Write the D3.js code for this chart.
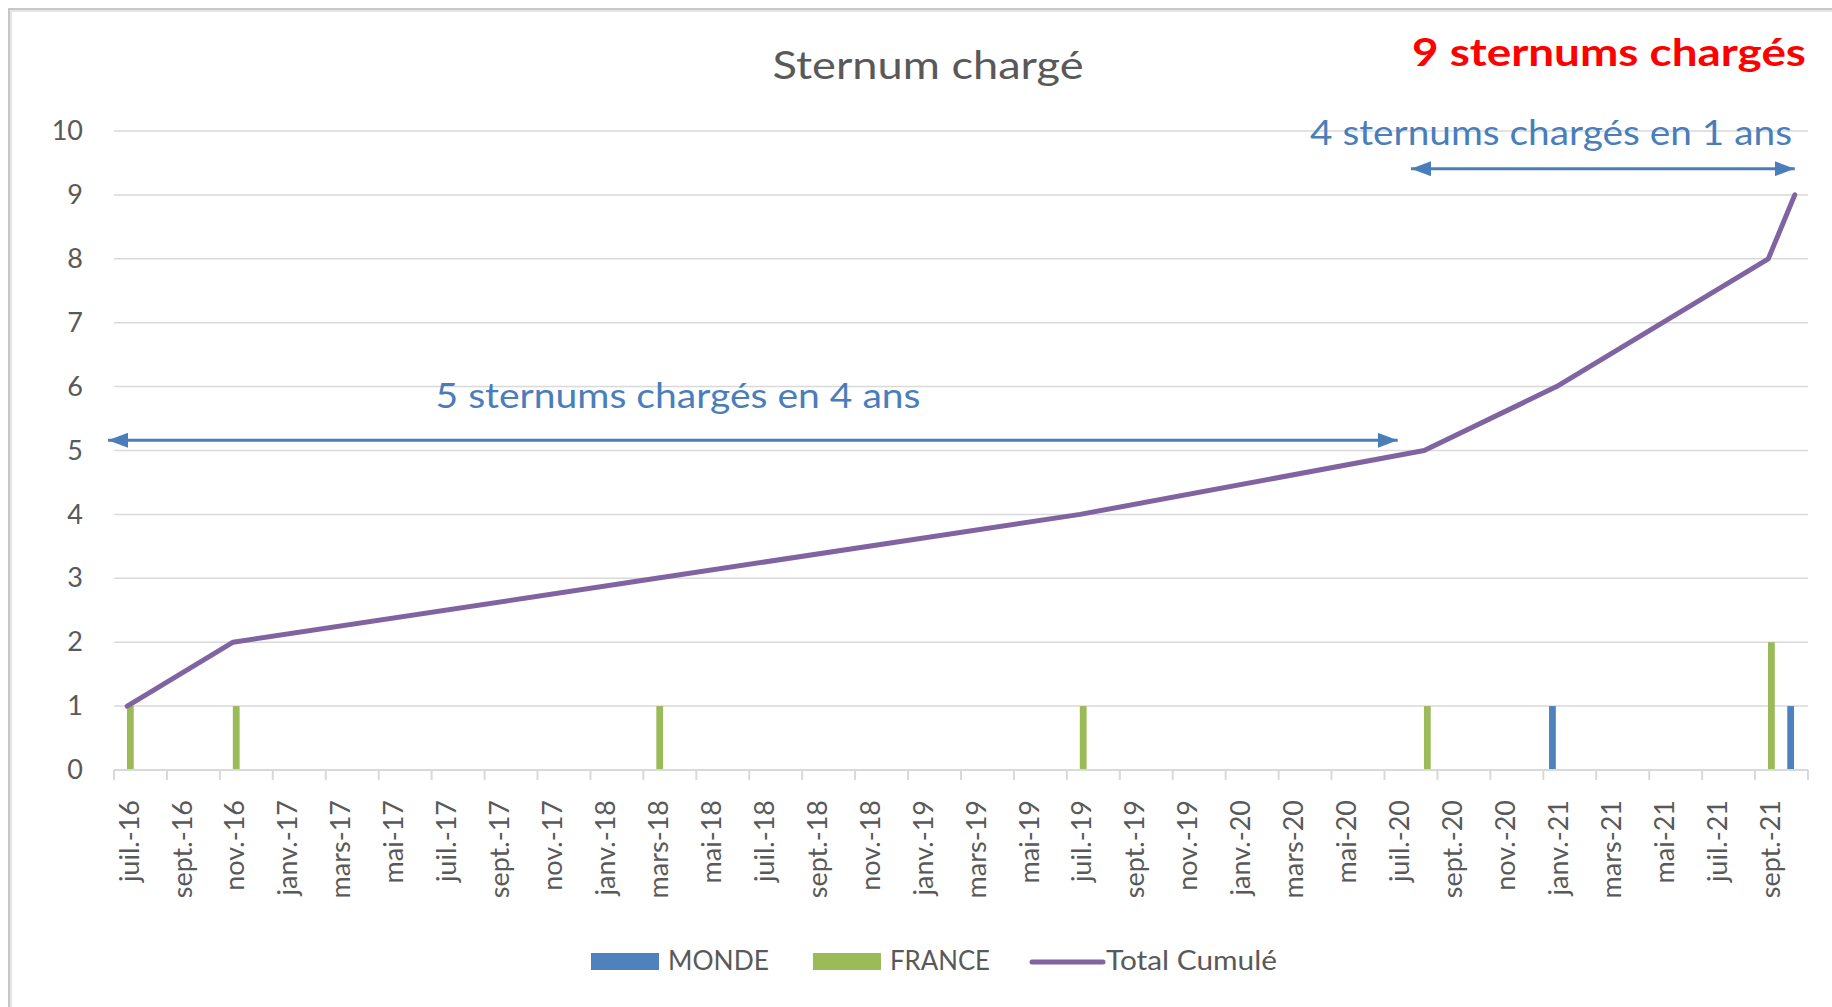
<!DOCTYPE html>
<html>
<head>
<meta charset="utf-8">
<script src="https://cdn.jsdelivr.net/npm/d3@7"></script>
<style>
  body { margin: 0; background: #fff; }
  svg { display: block; font-family: Lato, "Open Sans", sans-serif; }
</style>
</head>
<body>
<div id="chart"></div>
<script>
// monthly categories, juil. 2016 -> oct. 2021
var months = [
  "juil.-16", "août-16", "sept.-16", "oct.-16", "nov.-16", "déc.-16",
  "janv.-17", "févr.-17", "mars-17", "avr.-17", "mai-17", "juin-17",
  "juil.-17", "août-17", "sept.-17", "oct.-17", "nov.-17", "déc.-17",
  "janv.-18", "févr.-18", "mars-18", "avr.-18", "mai-18", "juin-18",
  "juil.-18", "août-18", "sept.-18", "oct.-18", "nov.-18", "déc.-18",
  "janv.-19", "févr.-19", "mars-19", "avr.-19", "mai-19", "juin-19",
  "juil.-19", "août-19", "sept.-19", "oct.-19", "nov.-19", "déc.-19",
  "janv.-20", "févr.-20", "mars-20", "avr.-20", "mai-20", "juin-20",
  "juil.-20", "août-20", "sept.-20", "oct.-20", "nov.-20", "déc.-20",
  "janv.-21", "févr.-21", "mars-21", "avr.-21", "mai-21", "juin-21",
  "juil.-21", "août-21", "sept.-21", "oct.-21"
];

// only the months with a value
var monde = [["janv.-21", 1], ["oct.-21", 1]];
var france = [["juil.-16", 1], ["nov.-16", 1], ["mars-18", 1], ["juil.-19", 1], ["août-20", 1], ["sept.-21", 2]];
var totalCumule = [["juil.-16", 1], ["nov.-16", 2], ["mars-18", 3], ["juil.-19", 4], ["août-20", 5], ["janv.-21", 6], ["sept.-21", 8], ["oct.-21", 9]];

var yTicks = [0, 1, 2, 3, 4, 5, 6, 7, 8, 9, 10];
var seriesNames = ["MONDE", "FRANCE", "Total Cumulé"];
var colors = { "MONDE": "#4f81bd", "FRANCE": "#9bbb59", "Total Cumulé": "#8064a2" };

var width = 1832, height = 1007;
var plot = { left: 114, right: 1808, top: 131, bottom: 770 };
var textColor = "#595959";
var gridColor = "#d9d9d9";
var noteColor = "#4a7ebb";

var svg = d3.select("#chart").append("svg")
    .attr("width", width)
    .attr("height", height);

svg.append("rect").attr("width", width).attr("height", height).attr("fill", "#fff");

// chart frame (left and top edges only are visible)
svg.append("path")
    .attr("d", "M10," + height + "V10H" + width)
    .attr("fill", "none")
    .attr("stroke", "#e6e6e6")
    .attr("stroke-width", 4);
svg.append("path")
    .attr("d", "M9," + height + "V9H" + width)
    .attr("fill", "none")
    .attr("stroke", "#bdbdbd")
    .attr("stroke-width", 1.5);

var x = d3.scaleBand()
    .domain(months)
    .range([plot.left, plot.right]);

var bw = x.bandwidth();

var x1 = d3.scaleBand()
    .domain(["MONDE", "FRANCE"])
    .range([bw / 2 - 7.5, bw / 2 + 6.5])
    .paddingInner(0.06);

var y = d3.scaleLinear()
    .domain([0, 10])
    .range([plot.bottom, plot.top]);

// gridlines
svg.append("g")
    .selectAll("line")
    .data(yTicks.slice(1))
    .enter().append("line")
    .attr("x1", plot.left)
    .attr("x2", plot.right)
    .attr("y1", function(d) { return y(d); })
    .attr("y2", function(d) { return y(d); })
    .attr("stroke", gridColor)
    .attr("stroke-width", 1.5);

// y axis labels
var yAxis = d3.axisLeft(y)
    .tickValues(yTicks)
    .tickSize(0)
    .tickPadding(31);

var gy = svg.append("g")
    .attr("transform", "translate(" + plot.left + ",0)")
    .call(yAxis);
gy.select(".domain").remove();
gy.selectAll("text")
    .attr("fill", textColor)
    .style("font-family", "Lato, sans-serif")
    .style("font-size", "27px");

// bars
var bars = svg.append("g");
[["MONDE", monde], ["FRANCE", france]].forEach(function(s) {
    bars.selectAll(".bar-" + s[0])
        .data(s[1])
        .enter().append("rect")
        .attr("class", "bar-" + s[0])
        .attr("x", function(d) { return x(d[0]) + x1(s[0]); })
        .attr("width", x1.bandwidth())
        .attr("y", function(d) { return y(d[1]); })
        .attr("height", function(d) { return y(0) - y(d[1]); })
        .attr("fill", colors[s[0]]);
});

// x axis
var labelMonths = months.filter(function(d, i) { return i % 2 === 0; });

var xAxis = d3.axisBottom(x)
    .tickValues(labelMonths)
    .tickSize(0);

var gx = svg.append("g")
    .attr("transform", "translate(0," + plot.bottom + ")")
    .call(xAxis);
gx.select(".domain").remove();
gx.selectAll("text")
    .attr("transform", "rotate(-90)")
    .attr("text-anchor", "end")
    .attr("x", -30)
    .attr("y", 0)
    .attr("dy", "0.42em")
    .attr("fill", textColor)
    .style("font-family", "Lato, sans-serif")
    .style("font-size", "27px");

// axis baseline and tick marks between every two months
svg.append("line")
    .attr("x1", plot.left)
    .attr("x2", plot.right)
    .attr("y1", plot.bottom)
    .attr("y2", plot.bottom)
    .attr("stroke", gridColor)
    .attr("stroke-width", 2);

var tickPos = labelMonths.map(function(m) { return x(m); }).concat([plot.right]);
svg.append("g")
    .selectAll("line")
    .data(tickPos)
    .enter().append("line")
    .attr("x1", function(d) { return d; })
    .attr("x2", function(d) { return d; })
    .attr("y1", plot.bottom)
    .attr("y2", plot.bottom + 10)
    .attr("stroke", gridColor)
    .attr("stroke-width", 2);

// cumulative line
var line = d3.line()
    .x(function(d) { return x(d[0]) + bw / 2; })
    .y(function(d) { return y(d[1]); });

svg.append("path")
    .datum(totalCumule)
    .attr("d", line)
    .attr("fill", "none")
    .attr("stroke", colors["Total Cumulé"])
    .attr("stroke-width", 5)
    .attr("stroke-linejoin", "round")
    .attr("stroke-linecap", "round");

// titles
svg.append("text")
    .attr("x", 928)
    .attr("y", 79)
    .attr("text-anchor", "middle")
    .attr("fill", textColor)
    .attr("textLength", 311)
    .attr("lengthAdjust", "spacingAndGlyphs")
    .style("font-size", "39px")
    .text("Sternum chargé");

svg.append("text")
    .attr("x", 1806)
    .attr("y", 66)
    .attr("text-anchor", "end")
    .attr("fill", "#ff0000")
    .attr("font-weight", "bold")
    .attr("textLength", 394)
    .attr("lengthAdjust", "spacingAndGlyphs")
    .style("font-size", "38px")
    .text("9 sternums chargés");

// annotations
var defs = svg.append("defs");
defs.append("marker")
    .attr("id", "arrow")
    .attr("markerUnits", "userSpaceOnUse")
    .attr("markerWidth", 21)
    .attr("markerHeight", 15)
    .attr("refX", 20)
    .attr("refY", 7.5)
    .attr("orient", "auto-start-reverse")
    .append("path")
    .attr("d", "M0,0L20,7.5L0,15Z")
    .attr("fill", noteColor);

var notes = [
    { text: "5 sternums chargés en 4 ans", from: plot.left - 6, to: x("juil.-20") + bw / 2, arrowY: 5.16, textX: 678, textY: 408, len: 485 },
    { text: "4 sternums chargés en 1 ans", from: x("août-20"), to: x("oct.-21") + bw / 2, arrowY: 9.41, textX: 1551, textY: 145, len: 482 }
];

notes.forEach(function(n) {
    svg.append("line")
        .attr("x1", n.from)
        .attr("x2", n.to)
        .attr("y1", y(n.arrowY))
        .attr("y2", y(n.arrowY))
        .attr("stroke", noteColor)
        .attr("stroke-width", 3)
        .attr("marker-start", "url(#arrow)")
        .attr("marker-end", "url(#arrow)");

    svg.append("text")
        .attr("x", n.textX)
        .attr("y", n.textY)
        .attr("text-anchor", "middle")
        .attr("fill", noteColor)
        .attr("textLength", n.len)
        .attr("lengthAdjust", "spacingAndGlyphs")
        .style("font-size", "35px")
        .text(n.text);
});

// legend
var legendItems = [
    { name: seriesNames[0], x: 591, type: "rect", len: 101 },
    { name: seriesNames[1], x: 813, type: "rect", len: 100 },
    { name: seriesNames[2], x: 1032, type: "line", len: 171 }
];

var legend = svg.append("g").attr("transform", "translate(0,962)");

legendItems.forEach(function(it) {
    if (it.type === "rect") {
        legend.append("rect")
            .attr("x", it.x)
            .attr("y", -9)
            .attr("width", 68)
            .attr("height", 17)
            .attr("fill", colors[it.name]);
    } else {
        legend.append("line")
            .attr("x1", it.x)
            .attr("x2", it.x + 71)
            .attr("y1", 0)
            .attr("y2", 0)
            .attr("stroke", colors[it.name])
            .attr("stroke-width", 5)
            .attr("stroke-linecap", "round");
    }
    legend.append("text")
        .attr("x", it.type === "rect" ? it.x + 77 : it.x + 74)
        .attr("y", 8)
        .attr("fill", textColor)
        .attr("textLength", it.len)
        .attr("lengthAdjust", "spacingAndGlyphs")
        .style("font-size", "26px")
        .text(it.name);
});
</script>
</body>
</html>
